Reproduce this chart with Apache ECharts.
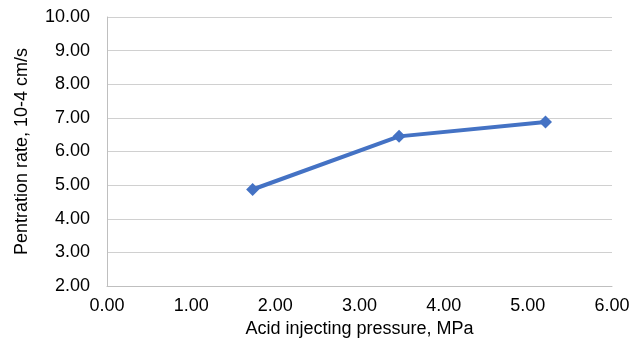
<!DOCTYPE html>
<html>
<head>
<meta charset="utf-8">
<script src="https://cdn.jsdelivr.net/npm/echarts@6/dist/echarts.min.js"></script>
<style>
html, body { margin: 0; padding: 0; background: #fff; }
#chart { width: 644px; height: 345px; }
</style>
</head>
<body>
<div id="chart"></div>
<script>
// acid injecting pressure (MPa) and penetration rate (10-4 cm/s)
const pressure = [1.73, 3.47, 5.21];
const rate = [4.87, 6.45, 6.88];

const points = pressure.map((p, i) => [p, rate[i]]);

const chart = echarts.init(document.getElementById('chart'));

const axisText = {
    color: '#000',
    fontFamily: 'Liberation Sans, Arial, sans-serif',
    fontSize: 18
};

chart.setOption({
    animation: false,
    grid: { left: 107, right: 32, top: 17, bottom: 59 },
    xAxis: {
        type: 'value',
        min: 0,
        max: 6,
        interval: 1,
        name: 'Acid injecting pressure, MPa',
        nameLocation: 'middle',
        nameGap: 33,
        nameTextStyle: axisText,
        axisLine: { show: true, lineStyle: { color: '#bfbfbf' } },
        axisTick: { show: false },
        splitLine: { show: false },
        axisLabel: Object.assign({ margin: 11, formatter: v => v.toFixed(2) }, axisText)
    },
    yAxis: {
        type: 'value',
        min: 2,
        max: 10,
        interval: 1,
        name: 'Pentration rate, 10-4 cm/s',
        nameLocation: 'middle',
        nameGap: 76,
        nameTextStyle: axisText,
        axisLine: { show: true, lineStyle: { color: '#bfbfbf' } },
        axisTick: { show: false },
        splitLine: { show: true, lineStyle: { color: '#d0d0d0' } },
        axisLabel: Object.assign({ margin: 17, formatter: v => v.toFixed(2) }, axisText)
    },
    series: [{
        type: 'line',
        data: points,
        symbol: 'diamond',
        symbolSize: 13,
        lineStyle: { color: '#4472C4', width: 4 },
        itemStyle: { color: '#4472C4' }
    }]
});
</script>
</body>
</html>
